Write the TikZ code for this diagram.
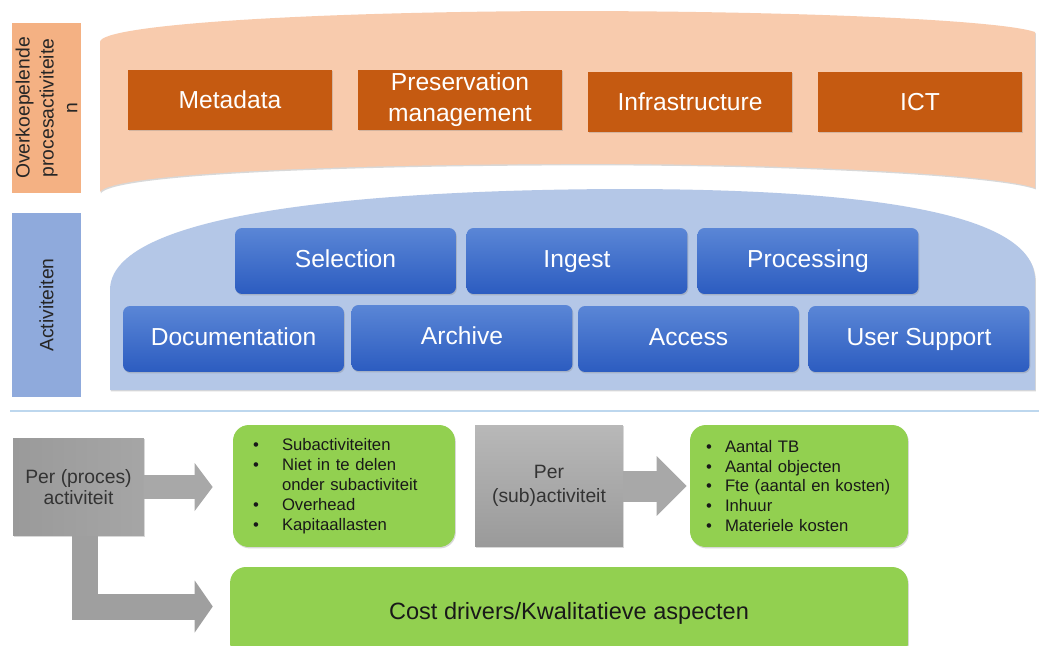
\documentclass[tikz,border=0pt]{standalone}
\usepackage{fontspec}
\setmainfont{Liberation Sans}
\usepackage{tikz}
\usetikzlibrary{positioning}
\usetikzlibrary{arrows.meta}
\usetikzlibrary{shadows}
\newcommand{\bl}[1]{\makebox[#1][l]{\textbullet}}

\definecolor{peachband}{HTML}{F8CBAD}
\definecolor{peachlabel}{HTML}{F4B183}
\definecolor{rust}{HTML}{C55A11}
\definecolor{skyband}{HTML}{B4C7E7}
\definecolor{skylabel}{HTML}{8FAADC}
\definecolor{bluetop}{HTML}{5A86D6}
\definecolor{bluebot}{HTML}{2C5CC0}
\definecolor{leaf}{HTML}{92D050}
\definecolor{sepblue}{HTML}{BDD7EE}
\definecolor{greydark}{HTML}{9A9A9A}
\definecolor{greylight}{HTML}{B8B8B8}
\definecolor{arrowgrey}{HTML}{A8A8A8}

\begin{document}
\begin{tikzpicture}[x=0.02cm, y=-0.02cm]

\tikzset{
    shadowed/.style={drop shadow={shadow xshift=0.5pt, shadow yshift=-0.8pt, opacity=0.3}},
    sidelabel/.style={rotate=90, inner sep=0, align=center, text=black!85, font=\fontsize{11}{13.6}\selectfont},
    topbox/.style={fill=rust, text=white, inner sep=0, minimum width=4.08cm, minimum height=1.2cm, align=center, font=\fontsize{14}{17.5}\selectfont, shadowed},
    actbox/.style={rounded corners=4pt, top color=bluetop, bottom color=bluebot, text=white, inner sep=0, minimum width=4.42cm, minimum height=1.32cm,
                   text height=0.92em, text depth=0.2em, font=\fontsize{14}{17}\selectfont, shadowed},
    perbox/.style={inner sep=0, align=center, text=black!80, shadowed},
    greenbox/.style={rounded corners=9pt, fill=leaf, inner ysep=0, align=left, text=black!90, minimum height=2.44cm, font=\fontsize{9.5}{11.3}\selectfont, shadowed},
    blockarrow/.style={draw=#1, line join=miter}
}
% variables
\def\toprow{261}
\def\botrow{339}
\def\labelx{46.5}

\useasboundingbox (0,0) rectangle (1039,646);
\fill[white] (0,0) rectangle (1039,646);

% ----------- bands ----------- %
\fill[peachband, shadowed] (100,192) -- (100,42) .. controls (100,25) and (300,12) .. (560,11)
    .. controls (800,11) and (1000,20) .. (1035,32) -- (1035,188)
    .. controls (1000,175) and (800,163) .. (560,164) .. controls (300,165) and (110,175) .. (100,192) -- cycle;
\fill[skyband, shadowed] (110,390) -- (110,290) .. controls (110,215) and (350,190) .. (620,189)
    .. controls (880,189) and (1035,215) .. (1035,280) -- (1035,390) -- cycle;

% ----------- left labels ----------- %
\node[sidelabel, fill=peachlabel, minimum width=3.4cm, minimum height=1.38cm] (overlabel) at (\labelx,108) {Overkoepelende\\procesactiviteite\\n};
\node[sidelabel, fill=skylabel, minimum width=3.68cm, minimum height=1.38cm] (actlabel) at (\labelx,305) {Activiteiten};

% ----------- process activities ----------- %
\node[topbox] (meta) at (230,100) {Metadata};
\node[topbox] (pres) at (460,100) {Preservation\\management};
\node[topbox] (infra) at (690,102) {Infrastructure};
\node[topbox] (ict) at (920,102) {ICT};

% ----------- activities ----------- %
\node[actbox] (sel) at (345.5,\toprow) {Selection};
\node[actbox] (ing) at (577,\toprow) {Ingest};
\node[actbox] (proc) at (808,\toprow) {Processing};
\node[actbox] (doc) at (233.5,\botrow) {Documentation};
\node[actbox] (arch) at (462,\botrow-1) {Archive};
\node[actbox] (acc) at (688.5,\botrow) {Access};
\node[actbox] (user) at (919,\botrow) {User Support};

\draw[sepblue, line width=0.03cm] (10,411) -- (1039,411);

% ------------ COST PART ---------%
% nodes
\node[perbox, left color=greydark, right color=greylight!90!black, minimum width=2.62cm, minimum height=1.96cm,
      font=\fontsize{11}{11.5}\selectfont] (perproc) at (78.5,487) {Per (proces)\\activiteit};
\node[greenbox, text width=3.64cm, inner xsep=0.4cm] (subact) at (344,486)
    {\bl{0.58cm}Subactiviteiten\\ \bl{0.58cm}Niet in te delen\\ \hspace*{0.58cm}onder subactiviteit\\ \bl{0.58cm}Overhead\\ \bl{0.58cm}Kapitaallasten};
\node[perbox, top color=greylight, bottom color=greydark, minimum width=2.96cm, minimum height=2.44cm,
      font=\fontsize{11}{13.5}\selectfont] (persub) at (549,486) {Per\\(sub)activiteit};
\node[greenbox, text width=3.72cm, inner xsep=0.32cm] (drivers) at (799,486)
    {\bl{0.38cm}Aantal TB\\ \bl{0.38cm}Aantal objecten\\ \bl{0.38cm}Fte (aantal en kosten)\\ \bl{0.38cm}Inhuur\\ \bl{0.38cm}Materiele kosten};
\node[greenbox, align=center, minimum width=13.56cm, minimum height=1.84cm, font=\fontsize{13.4}{16}\selectfont] (cost) at (569,613)
    {\raisebox{0.1cm}{Cost drivers/Kwalitatieve aspecten}};

% block arrows
\draw[blockarrow=arrowgrey, line width=0.48cm, -{Triangle[length=0.36cm, width=0.96cm, line width=0pt]}, shorten >=0.4cm]
    (perproc.east) -- (perproc.east -| subact.west);
\draw[blockarrow=greydark!95, line width=0.52cm, -{Triangle[length=0.36cm, width=1.04cm, line width=0pt]}, shorten >=0.34cm]
    ([xshift=0.13cm]perproc.south) |- ([yshift=0.13cm]cost.west);
\draw[blockarrow=arrowgrey, line width=0.62cm, -{Triangle[length=0.6cm, width=1.2cm, line width=0pt]}, shorten >=0.06cm]
    (persub.east) -- (drivers.west);
% -------------- END COST PART -------- %

\end{tikzpicture}
\end{document}
